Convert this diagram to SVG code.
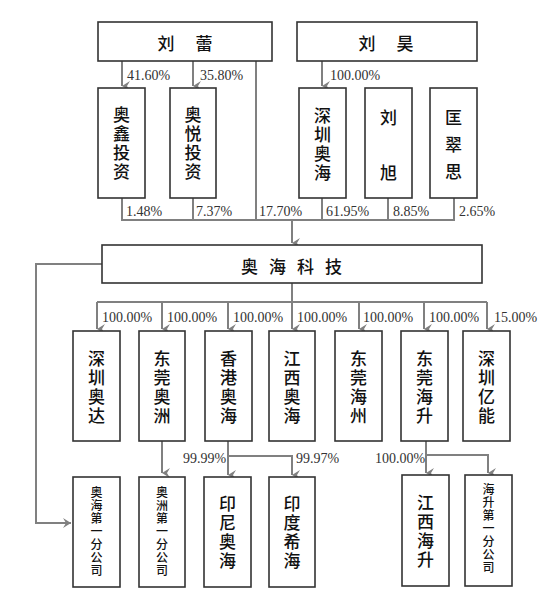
<svg xmlns="http://www.w3.org/2000/svg" width="554" height="600" viewBox="0 0 554 600">
<defs>
<marker id="arr" viewBox="0 0 10 10" refX="5" refY="10" markerWidth="10" markerHeight="10" markerUnits="userSpaceOnUse" orient="auto-start-reverse">
<path d="M0,2 L5,10 L10,2 L5,5 z" fill="#808080"/>
</marker>
<marker id="arrR" viewBox="0 0 10 10" refX="10" refY="5" markerWidth="10" markerHeight="10" markerUnits="userSpaceOnUse" orient="0">
<path d="M2,0 L10,5 L2,10 L5,5 z" fill="#808080"/>
</marker>
<style>
.box{fill:#fff;stroke:#333;stroke-width:1.6}
.ln{fill:none;stroke:#808080;stroke-width:2}
.cj{font-family:"Noto Sans CJK SC","Noto Sans",sans-serif;font-size:17px;font-weight:500;fill:#111;text-anchor:middle;dominant-baseline:central}
.v{font-family:"Noto Sans CJK SC","Noto Sans",sans-serif;font-size:17px;font-weight:500;fill:#111;text-anchor:middle;writing-mode:vertical-rl;text-orientation:upright;letter-spacing:2px}
.sm{font-family:"Noto Sans CJK SC","Noto Sans",sans-serif;font-size:12px;font-weight:500;fill:#111;text-anchor:middle;writing-mode:vertical-rl;text-orientation:upright;letter-spacing:1px}
.pc{font-family:"Liberation Serif","Times New Roman",serif;font-size:14px;fill:#333}
</style>
</defs>
<rect width="554" height="600" fill="#fff"/>

<g id="connectors">
<path class="ln" d="M122,61 V86" marker-end="url(#arr)"/>
<path class="ln" d="M193,61 V86" marker-end="url(#arr)"/>
<path class="ln" d="M322,61 V86" marker-end="url(#arr)"/>
<path class="ln" d="M256,61 V220"/>
<path class="ln" d="M122,198 V220 H454 V198"/>
<path class="ln" d="M193,198 V220"/>
<path class="ln" d="M322,198 V220"/>
<path class="ln" d="M388,198 V220"/>
<path class="ln" d="M292,220 V243" marker-end="url(#arr)"/>
<path class="ln" d="M102,264 H36 V523 H71" marker-end="url(#arrR)"/>
<path class="ln" d="M292,283 V302"/>
<path class="ln" d="M97,302 H487"/>
<path class="ln" d="M97,302 V329" marker-end="url(#arr)"/>
<path class="ln" d="M162,302 V329" marker-end="url(#arr)"/>
<path class="ln" d="M228,302 V329" marker-end="url(#arr)"/>
<path class="ln" d="M292,302 V329" marker-end="url(#arr)"/>
<path class="ln" d="M359,302 V329" marker-end="url(#arr)"/>
<path class="ln" d="M424,302 V329" marker-end="url(#arr)"/>
<path class="ln" d="M487,302 V329" marker-end="url(#arr)"/>
<path class="ln" d="M162,441 V473" marker-end="url(#arr)"/>
<path class="ln" d="M228,441 V475" marker-end="url(#arr)"/>
<path class="ln" d="M228,456 H292 V475" marker-end="url(#arr)"/>
<path class="ln" d="M426,441 V473" marker-end="url(#arr)"/>
<path class="ln" d="M426,455 H488 V473" marker-end="url(#arr)"/>
</g>

<g id="labels">
<text class="pc" x="127" y="80">41.60%</text>
<text class="pc" x="200" y="80">35.80%</text>
<text class="pc" x="330" y="80">100.00%</text>
<text class="pc" x="126" y="216">1.48%</text>
<text class="pc" x="196" y="216">7.37%</text>
<text class="pc" x="259" y="216">17.70%</text>
<text class="pc" x="326" y="216">61.95%</text>
<text class="pc" x="393" y="216">8.85%</text>
<text class="pc" x="459" y="216">2.65%</text>
<text class="pc" x="102" y="322">100.00%</text>
<text class="pc" x="167" y="322">100.00%</text>
<text class="pc" x="233" y="322">100.00%</text>
<text class="pc" x="297" y="322">100.00%</text>
<text class="pc" x="363" y="322">100.00%</text>
<text class="pc" x="429" y="322">100.00%</text>
<text class="pc" x="494" y="322">15.00%</text>
<text class="pc" x="183" y="463">99.99%</text>
<text class="pc" x="296" y="463">99.97%</text>
<text class="pc" x="375" y="463">100.00%</text>
</g>

<g id="liulei"><rect class="box" x="98" y="22" width="174" height="39"/><text class="cj" x="185" y="42" xml:space="preserve">刘　 蕾</text></g>
<g id="liuhao"><rect class="box" x="297" y="22" width="180" height="39"/><text class="cj" x="386" y="42" xml:space="preserve">刘　 昊</text></g>

<g id="aoxin"><rect class="box" x="98" y="88" width="47" height="110"/><text class="v" x="121.5" y="144">奥鑫投资</text></g>
<g id="aoyue"><rect class="box" x="170" y="88" width="46" height="110"/><text class="v" x="193" y="144">奥悦投资</text></g>
<g id="szaohai"><rect class="box" x="299" y="88" width="47" height="110"/><text class="v" x="322.5" y="145">深圳奥海</text></g>
<g id="liuxu"><rect class="box" x="365" y="88" width="47" height="110"/><text class="v" x="388.5" y="164" style="letter-spacing:38px">刘旭</text></g>
<g id="kuang"><rect class="box" x="430" y="88" width="47" height="110"/><text class="v" x="453.5" y="150" style="letter-spacing:10px">匡翠思</text></g>

<g id="aohaikeji"><rect class="box" x="102" y="245" width="380" height="38"/><text class="cj" x="297" y="265" style="letter-spacing:11px">奥海科技</text></g>

<g id="szaoda"><rect class="box" x="73" y="331" width="47" height="110"/><text class="v" x="96.5" y="388">深圳奥达</text></g>
<g id="dgaozhou"><rect class="box" x="139" y="331" width="46" height="110"/><text class="v" x="162" y="388">东莞奥洲</text></g>
<g id="hkaohai"><rect class="box" x="205" y="331" width="47" height="110"/><text class="v" x="228.5" y="388">香港奥海</text></g>
<g id="jxaohai"><rect class="box" x="269" y="331" width="46" height="110"/><text class="v" x="292" y="388">江西奥海</text></g>
<g id="dghaizhou"><rect class="box" x="335" y="331" width="47" height="110"/><text class="v" x="358.5" y="388">东莞海州</text></g>
<g id="dghaisheng"><rect class="box" x="401" y="331" width="47" height="110"/><text class="v" x="424.5" y="388">东莞海升</text></g>
<g id="szyineng"><rect class="box" x="463" y="331" width="47" height="110"/><text class="v" x="486.5" y="388">深圳亿能</text></g>

<g id="aohaibranch"><rect class="box" x="73" y="477" width="47" height="110"/><text class="sm" x="96.5" y="532">奥海第一分公司</text></g>
<g id="aozhoubranch"><rect class="box" x="139" y="477" width="46" height="110"/><text class="sm" x="162" y="532">奥洲第一分公司</text></g>
<g id="yinni"><rect class="box" x="204" y="477" width="47" height="110"/><text class="v" x="227.5" y="533">印尼奥海</text></g>
<g id="yindu"><rect class="box" x="269" y="477" width="46" height="110"/><text class="v" x="292" y="533">印度希海</text></g>
<g id="jxhaisheng"><rect class="box" x="402" y="475" width="47" height="111"/><text class="v" x="425.5" y="532">江西海升</text></g>
<g id="haishengbranch"><rect class="box" x="465" y="475" width="47" height="111"/><text class="sm" x="488.5" y="529">海升第一分公司</text></g>
</svg>
